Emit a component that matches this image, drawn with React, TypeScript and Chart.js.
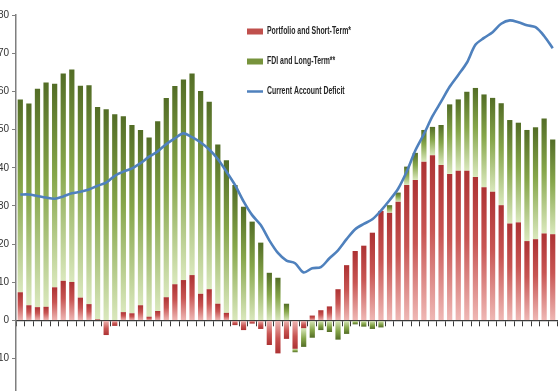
import React, { useEffect, useRef } from "react";
import { Chart, registerables } from "chart.js";

Chart.register(...registerables);

// ---- data ----
const portfolio = [
  7.4, 4.0, 3.5, 3.6, 8.7, 10.4, 10.1, 6.0, 4.3, 0.3,
  -3.8, -1.4, 2.2, 1.9, 4.0, 1.0, 2.5, 6.1, 9.5, 10.6,
  11.9, 7.0, 8.2, 4.4, 2.0, -1.2, -2.5, -0.8, -2.2, -6.4,
  -8.6, -4.8, -7.4, -2.0, 1.3, 2.7, 3.7, 8.2, 14.5, 18.2,
  19.6, 23.0, 28.7, 28.2, 31.1, 35.5, 36.8, 41.6, 43.3, 40.7,
  38.4, 39.2, 39.2, 37.6, 34.9, 33.7, 30.2, 25.4, 25.7, 20.8,
  21.3, 22.8, 22.6,
];

const fdi = [
  50.5, 52.8, 57.2, 58.7, 53.3, 54.3, 55.6, 55.5, 57.3, 55.6,
  55.3, 54.0, 51.3, 49.3, 45.9, 46.9, 49.7, 52.2, 51.9, 52.5,
  52.8, 53.1, 49.1, 41.7, 40.0, 35.5, 29.8, 25.9, 20.4, 12.5,
  11.2, 4.4, -0.9, -4.9, -4.5, -2.5, -3.0, -5.0, -3.5, -1.0,
  -1.6, -2.2, -1.8, 2.0, 2.4, 4.8, 7.1, 8.3, 7.4, 10.5,
  18.2, 18.7, 20.7, 23.3, 24.3, 24.6, 26.7, 27.1, 26.1, 29.1,
  29.3, 30.1, 24.8,
];

const currentAccountDeficit = [
  33.0, 33.0, 32.6, 32.2, 31.9, 32.5, 33.3, 33.7, 34.3, 35.3,
  36.1, 37.9, 39.0, 39.8, 41.2, 42.9, 44.3, 46.2, 47.7, 49.0,
  48.0, 46.6, 44.8, 42.3, 39.0, 35.5, 31.2, 27.6, 25.0, 21.0,
  17.7, 15.7, 15.0, 12.6, 13.7, 14.0, 16.3, 18.4, 21.3, 23.9,
  25.3, 26.5, 28.8, 31.5, 34.5, 39.0, 44.5, 48.8, 53.5, 57.3,
  61.2, 64.3, 67.5, 72.2, 74.0, 75.5, 77.7, 78.6, 78.1, 77.3,
  76.8, 74.5, 71.3,
];

const categories = portfolio.map((_, i) => String(i + 1));

const seriesLabels = [
  "Portfolio and Short-Term*",
  "FDI and Long-Term**",
  "Current Account Deficit",
];

const yTickStep = 10;
const yMin = -18.45;
const yMax = 80;

// ---- styles ----
const RED_SOLID = "#c0504d";
const GREEN_SOLID = "#77933c";
const BLUE = "#4f81bd";

function barFill(context: any, which: "red" | "green") {
  const solid = which === "red" ? RED_SOLID : GREEN_SOLID;
  const chart = context.chart;
  if (context.type !== "data" || !chart.chartArea || !chart.scales || !chart.scales.y) return solid;
  const i = context.dataIndex;
  const r = portfolio[i];
  const g = fdi[i];
  let base = 0;
  let end = 0;
  if (which === "red") {
    base = 0;
    end = r;
  } else {
    base = (g >= 0) === (r >= 0) ? r : 0;
    end = base + g;
  }
  const y = chart.scales.y;
  const p0 = y.getPixelForValue(base);
  const p1 = y.getPixelForValue(end);
  if (!Number.isFinite(p0) || !Number.isFinite(p1) || Math.abs(p1 - p0) < 1) return solid;
  const grad = chart.ctx.createLinearGradient(0, p1, 0, p0);
  if (which === "red") {
    grad.addColorStop(0, "#ad3233");
    grad.addColorStop(0.45, "#c85553");
    grad.addColorStop(1, "#efb8b5");
  } else {
    grad.addColorStop(0, "#536d26");
    grad.addColorStop(0.45, "#86a64a");
    grad.addColorStop(1, "#dae8bd");
  }
  return grad;
}

const insideLegend = {
  id: "insideLegend",
  afterDraw(chart: any, _args: any, opts: any) {
    const ctx = chart.ctx;
    const ds = chart.data.datasets;
    ctx.save();
    ctx.font = opts.font;
    const ref = ctx.measureText(ds[0].label).width;
    const sx = ref > 0 ? opts.firstTextWidth / ref : 1;
    ds.forEach((d: any, i: number) => {
      const yy = opts.rows[i];
      const x = opts.x;
      if (d.type === "line") {
        ctx.strokeStyle = d.borderColor;
        ctx.lineWidth = 2.5;
        ctx.beginPath();
        ctx.moveTo(x, yy);
        ctx.lineTo(x + opts.swatchW, yy);
        ctx.stroke();
      } else {
        ctx.fillStyle = i === 0 ? RED_SOLID : GREEN_SOLID;
        ctx.fillRect(x, yy - opts.swatchH / 2, opts.swatchW, opts.swatchH);
      }
      ctx.save();
      ctx.translate(x + opts.swatchW + opts.gap, yy);
      ctx.scale(sx, 1);
      ctx.fillStyle = "#262626";
      ctx.textBaseline = "middle";
      ctx.textAlign = "left";
      ctx.fillText(d.label, 0, 0);
      ctx.restore();
    });
    ctx.restore();
  },
};

export default function App() {
  const canvasRef = useRef<HTMLCanvasElement | null>(null);

  useEffect(() => {
    if (!canvasRef.current) return;
    const chart = new Chart(canvasRef.current, {
      type: "bar",
      data: {
        labels: categories,
        datasets: [
          {
            type: "bar",
            label: seriesLabels[0],
            data: portfolio,
            stack: "flows",
            order: 1,
            backgroundColor: (c: any) => barFill(c, "red"),
            borderWidth: 0,
            barPercentage: 0.61,
            categoryPercentage: 1.0,
          },
          {
            type: "bar",
            label: seriesLabels[1],
            data: fdi,
            stack: "flows",
            order: 2,
            backgroundColor: (c: any) => barFill(c, "green"),
            borderWidth: 0,
            barPercentage: 0.61,
            categoryPercentage: 1.0,
          },
          {
            type: "line",
            label: seriesLabels[2],
            data: currentAccountDeficit,
            stack: "cad",
            order: 0,
            borderColor: BLUE,
            backgroundColor: BLUE,
            borderWidth: 2.6,
            pointRadius: 0,
            tension: 0.3,
            fill: false,
          },
        ] as any,
      },
      options: {
        animation: false,
        responsive: false,
        layout: { padding: { top: 15, right: 1, bottom: 0, left: 0 } },
        plugins: {
          legend: { display: false },
          tooltip: { enabled: false },
          insideLegend: {
            x: 247,
            rows: [31.5, 61.5, 91.5],
            swatchW: 16,
            swatchH: 6,
            gap: 4,
            font: "bold 10px 'Liberation Sans', Arial, sans-serif",
            firstTextWidth: 84,
          },
        } as any,
        scales: {
          x: {
            type: "category",
            stacked: true,
            position: { y: 0 } as any,
            ticks: { display: false },
            grid: {
              drawOnChartArea: false,
              drawTicks: true,
              tickLength: 5,
              tickColor: "#3a3a3a",
              offset: true,
            },
            border: { display: true, color: "#3a3a3a", width: 1.3 },
            afterFit: (s: any) => {
              s.height = 0;
              s.paddingLeft = 0;
              s.paddingRight = 0;
            },
          },
          y: {
            type: "linear",
            stacked: true,
            min: yMin,
            max: yMax,
            ticks: {
              stepSize: yTickStep,
              includeBounds: false,
              padding: 3,
              color: "#333333",
              font: { size: 10, family: "'Liberation Sans', Arial, sans-serif" },
            },
            grid: {
              drawOnChartArea: false,
              drawTicks: true,
              tickLength: 4,
              tickColor: "#7f7f7f",
            },
            border: { display: true, color: "#7f7f7f", width: 1.5 },
            afterFit: (s: any) => {
              s.width = 16;
              s.paddingTop = 0;
              s.paddingBottom = 0;
            },
          },
        },
      },
      plugins: [insideLegend],
    });
    return () => chart.destroy();
  }, []);

  return (
    <div style={{ position: "absolute", left: 0, top: 0, width: 558, height: 391, background: "#ffffff" }}>
      <canvas ref={canvasRef} width={558} height={391} style={{ display: "block" }} />
    </div>
  );
}
